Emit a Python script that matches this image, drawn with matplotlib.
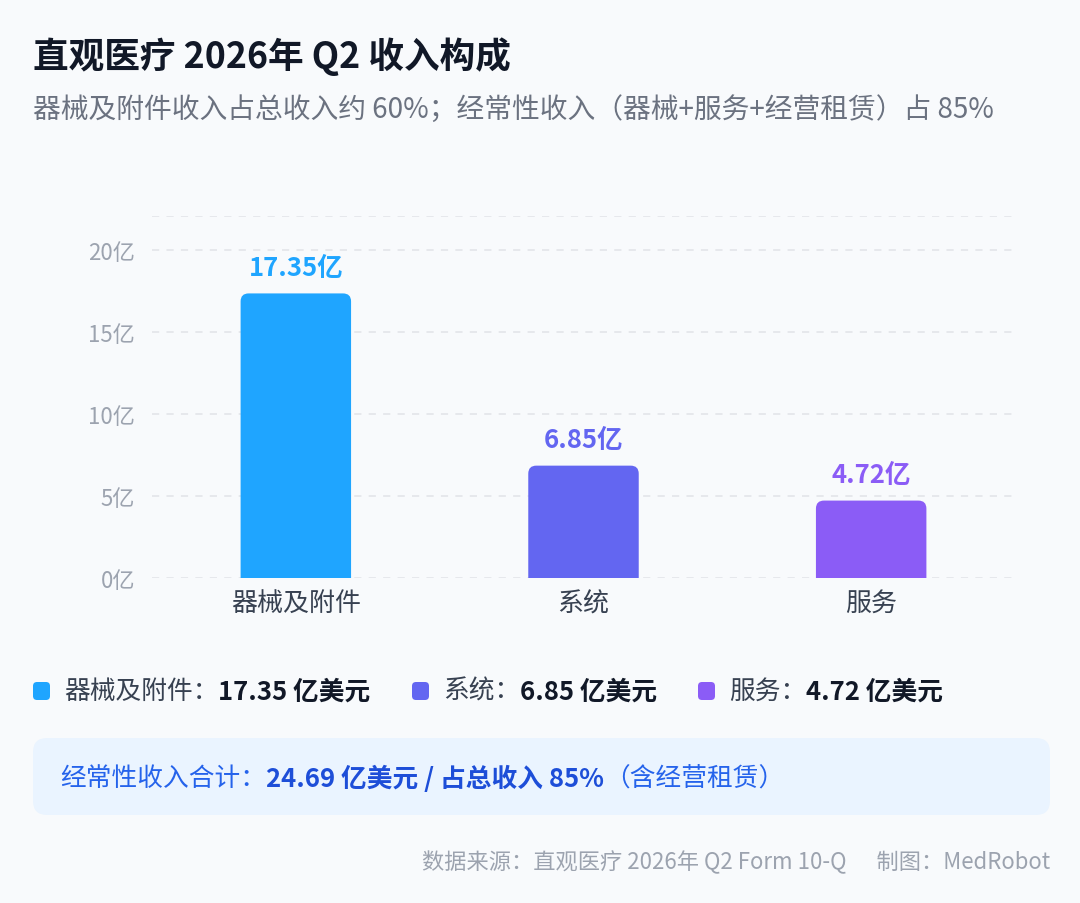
import matplotlib
matplotlib.use('Agg')
import matplotlib.pyplot as plt
from matplotlib.patches import FancyBboxPatch
from matplotlib.transforms import IdentityTransform

plt.rcParams['font.family'] = ['Noto Sans CJK SC', 'DejaVu Sans']

# data
categories = ['器械及附件', '系统', '服务']
values = [17.35, 6.85, 4.72]
value_labels = ['17.35亿', '6.85亿', '4.72亿']
legend_values = ['17.35 亿美元', '6.85 亿美元', '4.72 亿美元']
y_ticks = [0, 5, 10, 15, 20]
y_tick_labels = ['0亿', '5亿', '10亿', '15亿', '20亿']
colors = ['#1FA5FF', '#6366F1', '#8B5CF6']

W, H = 1080, 904
bg = '#F8FAFC'

fig = plt.figure(figsize=(W / 100, H / 100), dpi=100)
fig.patch.set_facecolor(bg)
ident = IdentityTransform()


def put(x, y, s, **kw):
    # x, y in pixels, y measured from the top
    return fig.text(x, H - y, s, transform=ident, **kw)


# title
put(33, 57, '直观医疗 2026年 Q2 收入构成', fontsize=25.7, fontweight='bold',
    color='#111827', va='center')
put(33, 110, '器械及附件收入占总收入约 60%；经常性收入（器械+服务+经营租赁）占 85%',
    fontsize=20, color='#6B7280', va='center')

# axes
ax_l, ax_r, ax_b, ax_t = 152, 1015, 579, 217
ax = fig.add_axes([ax_l / W, 1 - ax_b / H, (ax_r - ax_l) / W, (ax_b - ax_t) / H])
ax.set_facecolor(bg)
ymax = 22.07
ax.set_xlim(-0.5, 2.5)
ax.set_ylim(0, ymax)
for sp in ax.spines.values():
    sp.set_visible(False)

for t in y_ticks + [ymax]:
    ax.axhline(t, color='#E5E7EB', lw=1.3, ls=(0, (4, 4)), zorder=0)

bar_w = 0.384
bars = ax.bar(range(len(values)), values, width=bar_w, color=colors, zorder=2)

# rounded top corners
px_x = (ax_r - ax_l) / 3.0
px_y = (ax_b - ax_t) / ymax
rad = 8
rx, ry = rad / px_x, rad / px_y
for b, c in zip(bars, colors):
    x0, w, h = b.get_x(), b.get_width(), b.get_height()
    b.remove()
    ax.add_patch(FancyBboxPatch((x0, -ry), w, h + ry,
                                boxstyle=f'round,pad=0,rounding_size={rx}',
                                mutation_aspect=ry / rx, fc=c, ec='none',
                                zorder=2))

for i, (v, lab, c) in enumerate(zip(values, value_labels, colors)):
    ax.annotate(lab, (i, v), xytext=(0, 9), textcoords='offset points',
                ha='center', va='bottom', fontsize=18.5, fontweight='bold',
                color=c)

ax.set_yticks(y_ticks)
ax.set_yticklabels(y_tick_labels, fontsize=16, color='#9CA3AF')
ax.set_xticks(range(len(categories)))
ax.set_xticklabels(categories, fontsize=18.7, color='#374151')
ax.tick_params(axis='y', length=0, pad=12)
ax.tick_params(axis='x', length=0, pad=8)

# legend row
fig.canvas.draw()
renderer = fig.canvas.get_renderer()


def width_of(t):
    return t.get_window_extent(renderer).width


leg_x = [33, 412, 698]
leg_y = 692
for x, cat, val, c in zip(leg_x, categories, legend_values, colors):
    fig.patches.append(FancyBboxPatch((x, H - leg_y - 9), 17, 18,
                                      boxstyle='round,pad=0,rounding_size=4',
                                      fc=c, ec='none', transform=ident,
                                      figure=fig))
    t1 = put(x + 31, leg_y, cat + '：', fontsize=18.5, color='#374151',
             va='center')
    put(x + 31 + width_of(t1), leg_y, val, fontsize=18.5, fontweight='bold',
        color='#111827', va='center')

# summary box
fig.patches.append(FancyBboxPatch((33, H - 816), 1017, 77,
                                  boxstyle='round,pad=0,rounding_size=14',
                                  fc='#EAF4FF', ec='none', transform=ident,
                                  figure=fig))
box_y = 779
xx = 60
t = put(xx, box_y, '经常性收入合计：', fontsize=18.5, color='#2563EB', va='center')
xx += width_of(t)
t = put(xx, box_y, '24.69 亿美元 / 占总收入 85%', fontsize=18.5, fontweight='bold',
        color='#1D4ED8', va='center')
xx += width_of(t)
put(xx, box_y, '（含经营租赁）', fontsize=18.5, color='#2563EB', va='center')

# footer
put(1050, 862, '数据来源：直观医疗 2026年 Q2 Form 10-Q      制图：MedRobot',
    fontsize=16, color='#9CA3AF', ha='right', va='center')

fig.savefig('out.png', dpi=100, facecolor=bg)
